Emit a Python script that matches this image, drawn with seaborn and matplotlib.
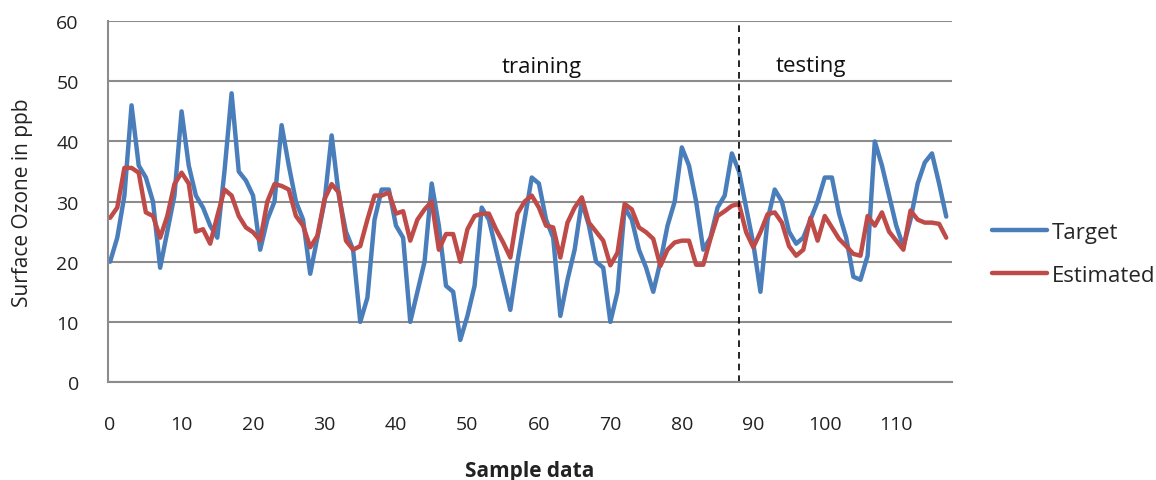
import numpy as np, pandas as pd, matplotlib
matplotlib.use("Agg")
import matplotlib.pyplot as plt
import seaborn as sns

# values
target = [20, 24, 31, 46, 36, 34, 30, 19, 25, 31,
          45, 36, 31, 29, 26, 24, 35, 48, 35, 33.5,
          31, 22, 27, 30, 42.7, 36, 30, 27, 18, 24,
          30, 41, 31, 25, 22, 10, 14, 27, 32, 32,
          26, 24, 10, 15, 20, 33, 26, 16, 15, 7,
          11, 16, 29, 27, 22, 17, 12, 20, 27, 34,
          33, 27, 24, 11, 17, 22, 30, 26, 20, 19,
          10, 15, 29, 27, 22, 19, 15, 20, 26, 30,
          39, 36, 30, 22, 24, 29, 31, 38, 35, 29,
          23, 15, 27, 32, 30, 25, 23, 24, 27, 30,
          34, 34, 28, 24, 17.5, 17, 21, 40, 36, 31,
          26, 22.5, 27, 33, 36.5, 38, 33, 27.5]
estimated = [27.3, 29, 35.6, 35.6, 34.8, 28.2, 27.6, 24, 27.6, 32.9,
             34.8, 33, 25, 25.4, 23, 27.6, 32, 31, 27.6, 25.7,
             24.9, 23.5, 30, 32.9, 32.6, 32, 27.6, 26, 22.4, 24.3,
             30.4, 32.9, 31.5, 23.5, 22, 22.6, 27, 31, 31, 31.5,
             28, 28.4, 23.5, 27, 28.7, 30, 22, 24.6, 24.6, 20,
             25.4, 27.6, 28, 28, 25.4, 23.2, 20.7, 28, 30, 31,
             29, 26, 25.7, 20.7, 26.5, 29, 30.7, 26.5, 25, 23.5,
             19.4, 21.5, 29.6, 28.7, 25.7, 24.9, 23.8, 19.3, 22, 23.2,
             23.5, 23.5, 19.5, 19.5, 23.8, 27.6, 28.4, 29.3, 29.6, 24.9,
             22.4, 24.9, 27.9, 28.2, 26.5, 22.6, 21, 22, 27.3, 23.5,
             27.6, 25.7, 23.8, 22.6, 21.3, 21, 27.6, 26, 28.2, 25,
             23.5, 22, 28.5, 27, 26.5, 26.5, 26.3, 24]
sample = list(range(len(target)))
split_at = 88
series_names = ["Target", "Estimated"]
series_colors = ["#4A7EBB", "#BE4B48"]

df = pd.DataFrame({
    "Sample data": sample * 2,
    "Surface Ozone in ppb": target + estimated,
    "series": [series_names[0]] * len(target) + [series_names[1]] * len(estimated),
})

sns.set_style("white")
plt.rcParams["font.family"] = ["Open Sans", "DejaVu Sans"]

fig = plt.figure(figsize=(11.56, 4.81), dpi=100)
ax = fig.add_axes([0.0934, 0.2037, 0.7301, 0.7503])

sns.lineplot(data=df, x="Sample data", y="Surface Ozone in ppb", hue="series",
             palette=series_colors, linewidth=3.2, ax=ax, legend=True)

ax.axvline(split_at, color="black", linestyle=(0, (4, 3)), linewidth=1.2)
ax.text(60.4, 52.4, "training", fontsize=16, ha="center", va="center", color="#111111")
ax.text(98, 52.7, "testing", fontsize=16, ha="center", va="center", color="#111111")

ax.set_xlim(-0.3, 117.8)
ax.set_ylim(0, 60)
ax.set_yticks(range(0, 61, 10))
ax.set_xticks(range(0, 111, 10))
ax.yaxis.grid(True, color="#8C8C8C", linewidth=1.5)
ax.set_axisbelow(True)
for s in ["top", "right"]:
    ax.spines[s].set_visible(False)
for s in ["left", "bottom"]:
    ax.spines[s].set_color("#8C8C8C")
    ax.spines[s].set_linewidth(1.5)
ax.tick_params(axis="y", length=7, width=1.5, color="#8C8C8C", pad=14, labelsize=14, labelcolor="#222222")
ax.tick_params(axis="x", length=0, pad=24, labelsize=14, labelcolor="#222222")
ax.set_xlabel("Sample data", fontsize=15, fontweight="bold", labelpad=19, color="#222222")
ax.set_ylabel("Surface Ozone in ppb", fontsize=15, labelpad=17, color="#222222")

leg = ax.legend(loc="center left", bbox_to_anchor=(0.858, 0.47), bbox_transform=fig.transFigure,
                frameon=False, fontsize=16, handlelength=2.5, handletextpad=0.2,
                labelspacing=1.0, borderpad=0, borderaxespad=0)
for line in leg.get_lines():
    line.set_linewidth(3.2)

fig.savefig("out.png", dpi=100)
